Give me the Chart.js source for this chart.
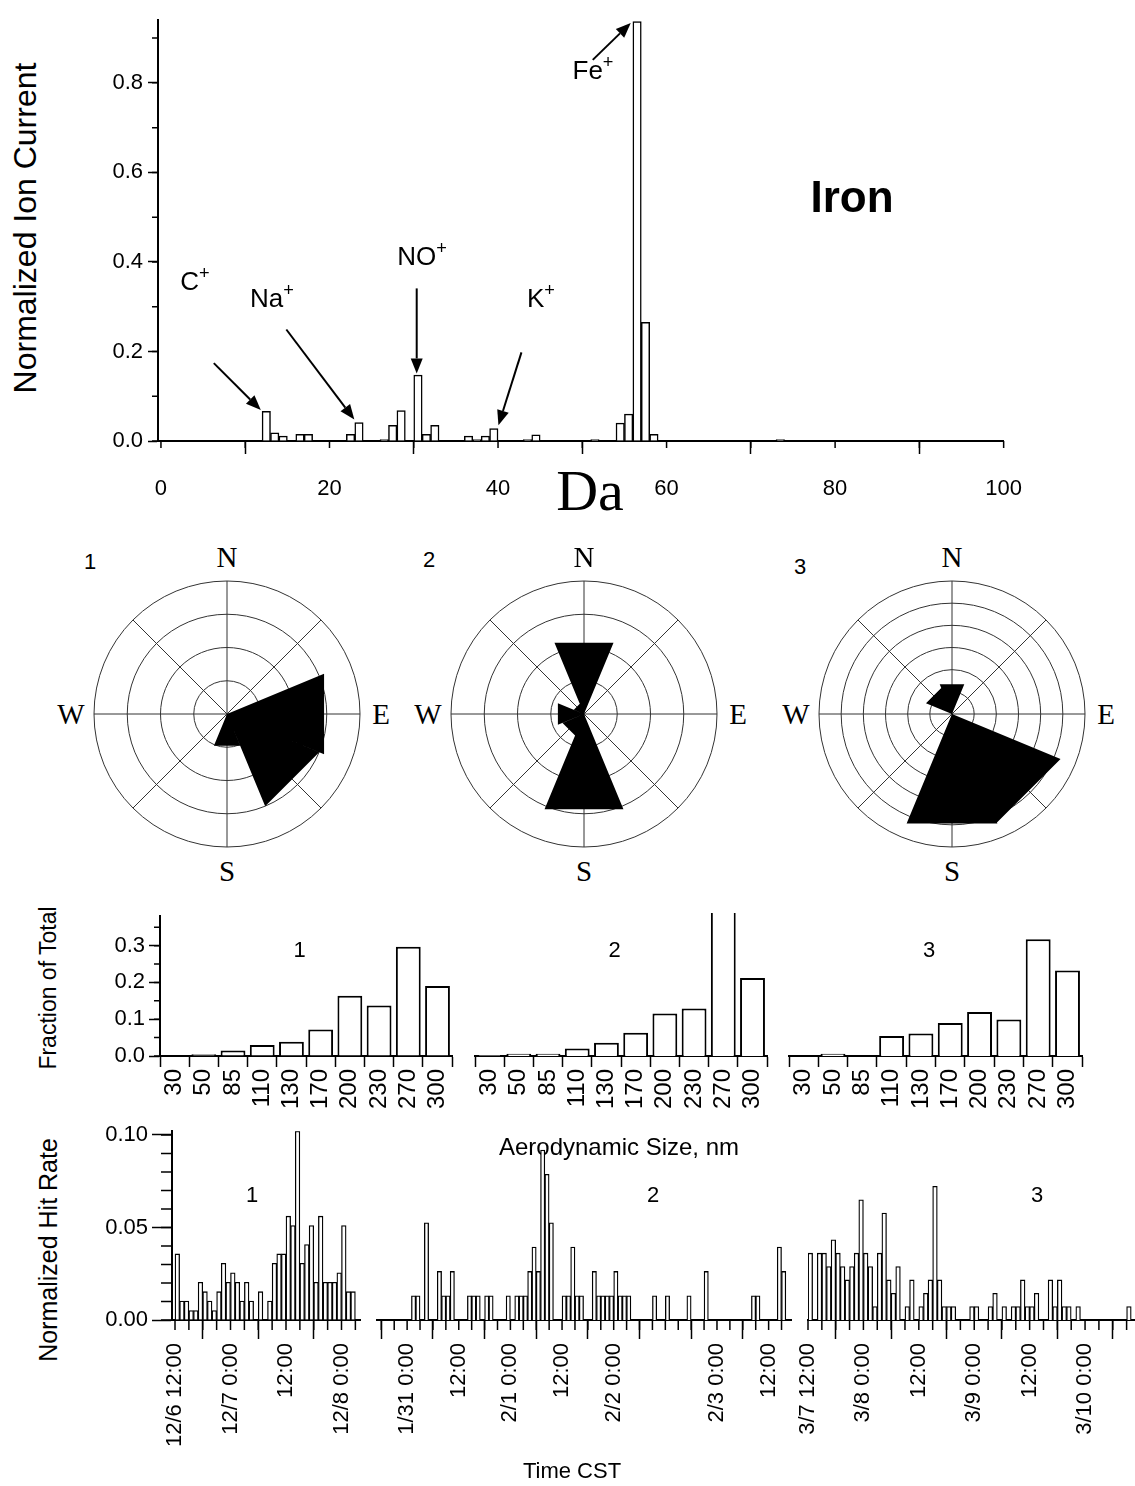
<!DOCTYPE html>
<html>
<head>
<meta charset="utf-8">
<title>Iron particle class</title>
<script src="https://cdn.jsdelivr.net/npm/chart.js@4.4.1/dist/chart.umd.min.js"></script>
<style>
  body { margin: 0; background: #fff; }
  #fig { position: relative; width: 1135px; height: 1486px; overflow: hidden; background: #fff;
         font-family: "Liberation Sans", Arial, sans-serif; color: #000; }
  #fig canvas { position: absolute; }
  .txt { position: absolute; white-space: nowrap; line-height: 1; }
  .txt sup { font-size: 70%; vertical-align: 0; position: relative; top: -0.6em; }
  .serif { font-family: "Liberation Serif", "Times New Roman", serif; }
</style>
</head>
<body>
<div id="fig"></div>
<script>
// average mass spectrum of the iron class (unit mass bins)
const peakMass = [12, 13, 14, 16, 17, 22, 23, 26, 27, 28, 30, 31, 32, 36, 37, 38, 39, 43, 44, 51, 54, 55, 56, 57, 58, 73];
const peakCurrent = [0.066, 0.018, 0.011, 0.015, 0.015, 0.015, 0.041, 0.003, 0.035, 0.068, 0.147, 0.015, 0.035,
  0.011, 0.003, 0.011, 0.028, 0.003, 0.014, 0.003, 0.040, 0.060, 0.937, 0.265, 0.015, 0.003];
const massTicks = [0, 20, 40, 60, 80, 100];

// wind direction of iron hits, three sampling periods
const directions = ['N', 'NE', 'E', 'SE', 'S', 'SW', 'W', 'NW'];
const rose1 = [0, 0, 3.16, 3.0, 1.03, 0, 0, 0];
const rose2 = [2.32, 0, 0, 0, 3.1, 0.7, 0.85, 0.33];
const rose3 = [1.45, 0, 0, 5.3, 5.35, 0, 0, 1.27];

// aerodynamic size distributions
const sizeBins = ['30', '50', '85', '110', '130', '170', '200', '230', '270', '300'];
const sizeFrac1 = [0, 0.005, 0.015, 0.03, 0.039, 0.072, 0.164, 0.137, 0.297, 0.19];
const sizeFrac2 = [0.002, 0.006, 0.006, 0.02, 0.035, 0.062, 0.113, 0.126, 0.385, 0.207];
const sizeFrac3 = [0, 0.006, 0, 0.053, 0.06, 0.088, 0.117, 0.097, 0.31, 0.227];

// hourly normalized hit rates
const hits1 = [0.0357, 0.0102, 0.0102, 0.0051, 0.0051, 0.0204, 0.0153, 0.0102, 0.0051, 0.0153,
  0.0306, 0.0204, 0.0255, 0.0204, 0.0102, 0.0204, 0.0102, 0, 0.0153, 0,
  0.0102, 0.0306, 0.0357, 0.0357, 0.0561, 0.051, 0.102, 0.0306, 0.0408, 0.051,
  0.0204, 0.0561, 0.0204, 0.0204, 0.0204, 0.0255, 0.051, 0.0153, 0.0153];
const hits2 = [0, 0.0129, 0.0129, 0, 0.0516, 0, 0, 0.0258, 0.0129, 0.0129,
  0.0258, 0, 0, 0, 0.0129, 0.0129, 0.0129, 0, 0.0129, 0.0129,
  0, 0, 0, 0.0129, 0, 0.0129, 0.0129, 0.0129, 0.0258, 0.0387,
  0.0258, 0.0903, 0.0774, 0.0516, 0, 0, 0.0129, 0.0129, 0.0387, 0.0129,
  0.0129, 0, 0, 0.0258, 0.0129, 0.0129, 0.0129, 0.0129, 0.0258, 0.0129,
  0.0129, 0.0129, 0, 0, 0, 0, 0, 0.0129, 0, 0,
  0.0129, 0, 0, 0, 0, 0.0129, 0, 0, 0, 0.0258,
  0, 0, 0, 0, 0, 0, 0, 0, 0, 0,
  0.0129, 0.0129, 0, 0, 0, 0, 0.0387, 0.0258];
const hits3 = [0.0355, 0, 0.0355, 0.0355, 0.0284, 0.0426, 0.0355, 0.0284, 0.0213, 0.0284,
  0.0355, 0.0639, 0.0355, 0.0284, 0.0071, 0.0355, 0.0568, 0.0213, 0.0142, 0.0284,
  0, 0.0071, 0.0213, 0, 0.0071, 0.0142, 0.0213, 0.071, 0.0213, 0.0071,
  0.0071, 0.0071, 0, 0, 0, 0.0071, 0.0071, 0, 0, 0.0071,
  0.0142, 0, 0.0071, 0, 0.0071, 0.0071, 0.0213, 0.0071, 0.0071, 0.0142,
  0, 0, 0.0213, 0.0071, 0.0213, 0.0071, 0.0071, 0, 0.0071, 0,
  0, 0, 0, 0, 0, 0, 0, 0, 0, 0.0071];
const timeLabels1 = ['12/6 12:00', '12/7 0:00', '12:00', '12/8 0:00'];
const timeLabels2 = ['1/31 0:00', '12:00', '2/1 0:00', '12:00', '2/2 0:00', '', '2/3 0:00', '12:00'];
const timeLabels3 = ['3/7 12:00', '3/8 0:00', '12:00', '3/9 0:00', '12:00', '3/10 0:00'];

// arrows from the ion labels down to their peaks (tip in data units, tail offset in px)
const peakArrowList = [
  { mass: 11.85, value: 0.069, dx: -47, dy: -47 },
  { mass: 22.95, value: 0.048, dx: -68, dy: -90 },
  { mass: 30.35, value: 0.151, dx: 0, dy: -85 },
  { mass: 40.05, value: 0.035, dx: 23, dy: -73 },
  { mass: 55.75, value: 0.934, dx: -38, dy: 37 }
];

Chart.defaults.font.family = '"Liberation Sans", Arial, sans-serif';
Chart.defaults.color = '#000';

const fig = document.getElementById('fig');

function text(html, x, y, size, extra) {
  const d = document.createElement('div');
  d.className = 'txt' + (extra && extra.cls ? ' ' + extra.cls : '');
  d.innerHTML = html;
  d.style.left = x + 'px';
  d.style.top = y + 'px';
  d.style.fontSize = size + 'px';
  if (extra && extra.bold) d.style.fontWeight = 'bold';
  d.style.transform = 'translate(-50%, -50%)' + (extra && extra.vertical ? ' rotate(-90deg)' : '');
  fig.appendChild(d);
}

// canvas sized so the chart area lands on the given page rectangle
function place(rect, yW, xH, padL, padT, padR) {
  const c = document.createElement('canvas');
  c.width = padL + yW + (rect.r - rect.l) + padR;
  c.height = padT + (rect.b - rect.t) + xH;
  c.style.left = (rect.l - yW - padL) + 'px';
  c.style.top = (rect.t - padT) + 'px';
  fig.appendChild(c);
  return { canvas: c, padding: { left: padL, top: padT, right: padR, bottom: 0 } };
}

const ticksOnly = len => ({
  display: true, drawOnChartArea: false, drawTicks: true,
  tickLength: len, tickWidth: 1.5, tickColor: '#000'
});
const blackBorder = { display: true, color: '#000', width: 2 };

// short unlabelled ticks between the labelled ones
const minorTicks = {
  id: 'minorTicks',
  afterDraw(chart, args, opts) {
    const ctx = chart.ctx;
    ctx.save();
    ctx.strokeStyle = '#000';
    ctx.lineWidth = 1.5;
    ['x', 'y'].forEach(id => {
      const cfg = opts[id];
      const scale = chart.scales[id];
      if (!cfg || !scale || !scale.options.display) return;
      const first = Math.ceil(scale.min / cfg.step - 1e-6);
      const last = Math.floor(scale.max / cfg.step + 1e-6);
      ctx.beginPath();
      for (let i = first; i <= last; i++) {
        const p = scale.getPixelForValue(i * cfg.step);
        if (id === 'x') {
          ctx.moveTo(p, scale.top);
          ctx.lineTo(p, scale.top + cfg.len);
        } else {
          ctx.moveTo(scale.right, p);
          ctx.lineTo(scale.right - cfg.len, p);
        }
      }
      ctx.stroke();
    });
    ctx.restore();
  }
};

const peakArrows = {
  id: 'peakArrows',
  afterDatasetsDraw(chart, args, opts) {
    const { x, y } = chart.scales;
    const ctx = chart.ctx;
    ctx.save();
    ctx.strokeStyle = '#000';
    ctx.fillStyle = '#000';
    ctx.lineWidth = 2;
    opts.items.forEach(a => {
      const tx = x.getPixelForValue(a.mass);
      const ty = y.getPixelForValue(a.value);
      const fx = tx + a.dx, fy = ty + a.dy;
      const ang = Math.atan2(ty - fy, tx - fx);
      const head = 15, half = 6;
      const bx = tx - Math.cos(ang) * head, by = ty - Math.sin(ang) * head;
      ctx.beginPath();
      ctx.moveTo(fx, fy);
      ctx.lineTo(bx, by);
      ctx.stroke();
      ctx.beginPath();
      ctx.moveTo(tx, ty);
      ctx.lineTo(bx + Math.sin(ang) * half, by - Math.cos(ang) * half);
      ctx.lineTo(bx - Math.sin(ang) * half, by + Math.cos(ang) * half);
      ctx.closePath();
      ctx.fill();
    });
    ctx.restore();
  }
};

// wind rose: spokes through sector centres, sectors filled as flat-topped wedges
const roseSectors = {
  id: 'roseSectors',
  beforeDatasetsDraw(chart) {
    const r = chart.scales.r;
    const ctx = chart.ctx;
    ctx.save();
    ctx.strokeStyle = '#333';
    ctx.lineWidth = 1;
    chart.getDatasetMeta(0).data.forEach(arc => {
      const a = (arc.startAngle + arc.endAngle) / 2;
      ctx.beginPath();
      ctx.moveTo(r.xCenter, r.yCenter);
      ctx.lineTo(r.xCenter + Math.cos(a) * r.drawingArea, r.yCenter + Math.sin(a) * r.drawingArea);
      ctx.stroke();
    });
    ctx.restore();
  },
  afterDatasetsDraw(chart) {
    const ctx = chart.ctx;
    ctx.save();
    ctx.fillStyle = '#000';
    // one path for all wedges so neighbouring sectors join without seams
    ctx.beginPath();
    chart.getDatasetMeta(0).data.forEach(arc => {
      const R = arc.outerRadius;
      if (!R) return;
      ctx.moveTo(arc.x, arc.y);
      ctx.lineTo(arc.x + Math.cos(arc.startAngle) * R, arc.y + Math.sin(arc.startAngle) * R);
      ctx.lineTo(arc.x + Math.cos(arc.endAngle) * R, arc.y + Math.sin(arc.endAngle) * R);
      ctx.closePath();
    });
    ctx.fill('nonzero');
    ctx.restore();
  }
};

const noLegend = { legend: { display: false }, tooltip: { enabled: false } };

// ---- mass spectrum ----
const spec = place({ l: 158, t: 16, r: 1020, b: 441 }, 100, 60, 0, 14, 24);
new Chart(spec.canvas, {
  type: 'bar',
  data: {
    datasets: [{
      data: peakMass.map((m, i) => ({ x: m + 0.5, y: peakCurrent[i] })),
      backgroundColor: '#fff', borderColor: '#000', borderWidth: 1.5,
      barPercentage: 1, categoryPercentage: 1
    }]
  },
  options: {
    responsive: false, animation: false,
    layout: { padding: spec.padding },
    plugins: {
      ...noLegend,
      minorTicks: { x: { step: 10, len: 7 }, y: { step: 0.1, len: 6 } },
      peakArrows: { items: peakArrowList }
    },
    scales: {
      x: {
        type: 'linear', min: -0.35, max: 100, offset: false,
        grid: ticksOnly(13), border: blackBorder,
        ticks: { maxRotation: 0, padding: 22, font: { size: 22 } },
        afterBuildTicks: s => { s.ticks = massTicks.map(v => ({ value: v })); },
        afterFit: s => { s.height = 60; }
      },
      y: {
        min: 0, max: 0.94,
        grid: ticksOnly(10), border: blackBorder,
        ticks: { stepSize: 0.2, includeBounds: false, padding: 5, font: { size: 22 }, callback: v => v.toFixed(1) },
        afterFit: s => { s.width = 100; }
      }
    }
  },
  plugins: [minorTicks, peakArrows]
});

text('Normalized Ion Current', 25, 228, 32, { vertical: true });
text('C<sup>+</sup>', 195, 281, 26);
text('Na<sup>+</sup>', 272, 298, 26);
text('NO<sup>+</sup>', 422, 256, 26);
text('K<sup>+</sup>', 541, 298, 26);
text('Fe<sup>+</sup>', 593, 70, 26);
text('Iron', 852, 197, 44, { bold: true });
text('Da', 590, 491, 58, { cls: 'serif' });

// ---- wind roses ----
function windRose(cx, cy, values, rings, num, numX, numY) {
  const R = 133, pad = 4, S = 2 * (R + pad);
  const c = document.createElement('canvas');
  c.width = S; c.height = S;
  c.style.left = (cx - R - pad) + 'px';
  c.style.top = (cy - R - pad) + 'px';
  fig.appendChild(c);
  new Chart(c, {
    type: 'polarArea',
    data: { labels: directions, datasets: [{ data: values, backgroundColor: 'rgba(0,0,0,0)', borderWidth: 0 }] },
    options: {
      responsive: false, animation: false,
      layout: { padding: pad },
      plugins: noLegend,
      scales: {
        r: {
          min: 0, max: rings, startAngle: -22.5,
          ticks: { display: false, stepSize: 1 },
          grid: { circular: true, color: '#333', lineWidth: 1 },
          angleLines: { display: false },
          pointLabels: { display: false }
        }
      }
    },
    plugins: [roseSectors]
  });
  text('N', cx, cy - 157, 29, { cls: 'serif' });
  text('S', cx, cy + 157, 29, { cls: 'serif' });
  text('W', cx - 156, cy, 29, { cls: 'serif' });
  text('E', cx + 154, cy, 29, { cls: 'serif' });
  text(num, numX, numY, 22);
}
windRose(227, 714, rose1, 4, '1', 90, 562);
windRose(584, 714, rose2, 4, '2', 429, 560);
windRose(952, 714, rose3, 6, '3', 800, 567);

// ---- size distributions ----
function sizePanel(l, r, values, showY, num) {
  const p = place({ l, t: 913, r, b: 1056 }, showY ? 90 : 0, 70, showY ? 0 : 16, 14, 14);
  const yAxis = {
    display: showY, min: 0, max: 0.38,
    grid: ticksOnly(11), border: blackBorder,
    ticks: { stepSize: 0.1, includeBounds: false, padding: 4, font: { size: 22 }, callback: v => v.toFixed(1) }
  };
  if (showY) yAxis.afterFit = s => { s.width = 90; };
  new Chart(p.canvas, {
    type: 'bar',
    data: {
      labels: sizeBins,
      datasets: [{ data: values, backgroundColor: '#fff', borderColor: '#000', borderWidth: 2,
        barPercentage: 0.85, categoryPercentage: 1 }]
    },
    options: {
      responsive: false, animation: false,
      layout: { padding: p.padding },
      plugins: { ...noLegend, minorTicks: { y: { step: 0.05, len: 6 } } },
      scales: {
        x: {
          grid: { ...ticksOnly(11), offset: true }, border: blackBorder,
          ticks: { minRotation: 90, maxRotation: 90, autoSkip: false, padding: 2, font: { size: 24 } },
          afterFit: s => { s.height = 70; }
        },
        y: yAxis
      }
    },
    plugins: [minorTicks]
  });
  text(num, (l + r) / 2 - 8, 950, 22);
}
sizePanel(160, 455, sizeFrac1, true, '1');
sizePanel(475, 770, sizeFrac2, false, '2');
sizePanel(789, 1085, sizeFrac3, false, '3');
text('Fraction of Total', 48, 988, 23, { vertical: true });
text('Aerodynamic Size, nm', 619, 1147, 24);

// ---- hit rate time series ----
function timePanel(l, r, min, max, values, labels, showY, num, numX) {
  const p = place({ l, t: 1128, r, b: 1320 }, showY ? 90 : 0, 140, showY ? 0 : 16, 14, 14);
  const yAxis = {
    display: showY, min: 0, max: 0.102,
    grid: ticksOnly(20), border: blackBorder,
    ticks: { stepSize: 0.05, includeBounds: false, padding: 4, font: { size: 22 }, callback: v => v.toFixed(2) }
  };
  if (showY) yAxis.afterFit = s => { s.width = 90; };
  new Chart(p.canvas, {
    type: 'bar',
    data: {
      datasets: [{
        data: values.map((v, k) => ({ x: k + 0.5, y: v })),
        backgroundColor: '#fff', borderColor: '#000', borderWidth: 1.3,
        barPercentage: 1, categoryPercentage: 1
      }]
    },
    options: {
      responsive: false, animation: false,
      layout: { padding: p.padding },
      plugins: { ...noLegend, minorTicks: { x: { step: 3, len: 10 }, y: { step: 0.01, len: 11 } } },
      scales: {
        x: {
          type: 'linear', min, max, offset: false,
          grid: ticksOnly(19), border: blackBorder,
          ticks: {
            stepSize: 12, includeBounds: false, minRotation: 90, maxRotation: 90, autoSkip: false,
            padding: 4, font: { size: 22 }, callback: v => labels[Math.round(v / 12)]
          },
          afterFit: s => { s.height = 140; }
        },
        y: yAxis
      }
    },
    plugins: [minorTicks]
  });
  text(num, numX, 1195, 22);
}
timePanel(172, 360, -0.65, 40, hits1, timeLabels1, true, '1', 252);
timePanel(376.7, 791, -7, 89.2, hits2, timeLabels2, false, '2', 653);
timePanel(808.3, 1135, 0, 70.6, hits3, timeLabels3, false, '3', 1037);
text('Normalized Hit Rate', 48, 1250, 25, { vertical: true });
text('Time CST', 572, 1471, 22);
</script>
</body>
</html>
